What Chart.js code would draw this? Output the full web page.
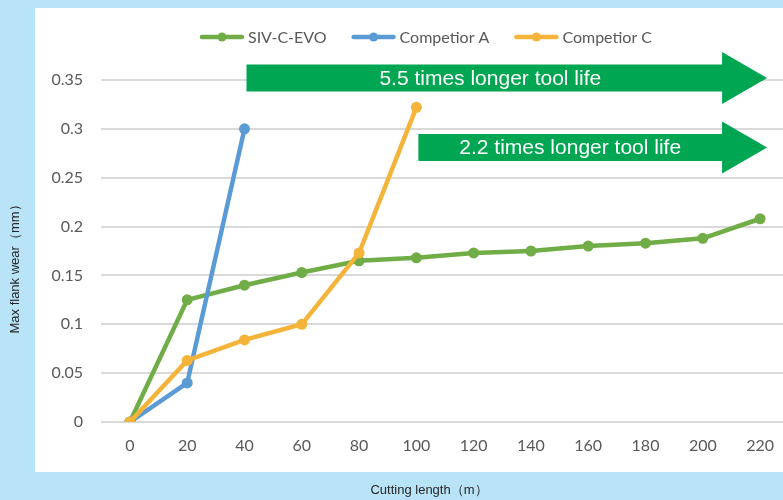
<!DOCTYPE html>
<html>
<head>
<meta charset="utf-8">
<script src="https://cdn.jsdelivr.net/npm/chart.js"></script>
<style>
    html, body { margin: 0; padding: 0; overflow: hidden; background: #b9e4f8; }
    #myChart { display: block; }
</style>
</head>
<body>
<canvas id="myChart" width="783" height="500"></canvas>
<script>
// data
const cuttingLength = [0, 20, 40, 60, 80, 100, 120, 140, 160, 180, 200, 220];
const sivValues = [0, 0.125, 0.14, 0.153, 0.165, 0.168, 0.173, 0.175, 0.18, 0.183, 0.188, 0.208];
const compAValues = [0, 0.04, 0.3];
const compCValues = [0, 0.063, 0.084, 0.1, 0.173, 0.322];
const seriesNames = ['SIV-C-EVO', 'Competior A', 'Competior C'];
const seriesColors = ['#70ad47', '#5b9bd5', '#f4b43a'];
const yTicks = [0, 0.05, 0.1, 0.15, 0.2, 0.25, 0.3, 0.35];

// arrows: from the last point of a competitor to the end of the test
const arrowTexts = ['5.5 times longer tool life', '2.2 times longer tool life'];
const arrowFrom = [40, 100];
const arrowTo = [220, 220];
const arrowLevel = [0.352, 0.281];

const xTitle = 'Cutting length（m）';
const yTitle = 'Max flank wear（mm）';

const tickFont = { family: 'Lato', size: 16 };
const tickColor = '#595959';

const backgroundPlugin = {
    id: 'panel',
    beforeDraw(chart) {
        const ctx = chart.ctx;
        ctx.save();
        ctx.fillStyle = '#b9e4f8';
        ctx.fillRect(0, 0, chart.width, chart.height);
        ctx.fillStyle = '#ffffff';
        ctx.fillRect(35, 8, chart.width - 35, 464);
        ctx.restore();
    }
};

const extrasPlugin = {
    id: 'extras',
    afterDatasetsDraw(chart) {
        const ctx = chart.ctx;
        const x = chart.scales.x;
        const y = chart.scales.y;
        ctx.save();
        // green arrows
        for (let i = 0; i < arrowTexts.length; i++) {
            const x0 = x.getPixelForValue(arrowFrom[i]) + 2;
            const tip = x.getPixelForValue(arrowTo[i]) + 7;
            const cy = y.getPixelForValue(arrowLevel[i]);
            const headStart = tip - 45;
            ctx.fillStyle = '#00a651';
            ctx.beginPath();
            ctx.moveTo(x0, cy - 13.5);
            ctx.lineTo(headStart, cy - 13.5);
            ctx.lineTo(headStart, cy - 26);
            ctx.lineTo(tip, cy);
            ctx.lineTo(headStart, cy + 26);
            ctx.lineTo(headStart, cy + 13.5);
            ctx.lineTo(x0, cy + 13.5);
            ctx.closePath();
            ctx.fill();
            ctx.fillStyle = '#ffffff';
            ctx.font = '21px "Liberation Sans", Arial, sans-serif';
            ctx.textAlign = 'center';
            ctx.textBaseline = 'middle';
            ctx.fillText(arrowTexts[i], (x0 + headStart) / 2 + (i === 0 ? 6 : 0), cy + 1);
        }
        ctx.restore();
    },
    afterDraw(chart) {
        const ctx = chart.ctx;
        ctx.save();
        // legend (line + dot icons)
        ctx.font = '16px Lato';
        const iconW = 44, gapText = 4, gapItem = 25;
        const widths = seriesNames.map((n) => ctx.measureText(n).width);
        let total = 0;
        widths.forEach((w) => total += iconW + gapText + w);
        total += gapItem * (widths.length - 1);
        let lx = 426 - total / 2;
        const ly = 37;
        for (let i = 0; i < seriesNames.length; i++) {
            ctx.strokeStyle = seriesColors[i];
            ctx.fillStyle = seriesColors[i];
            ctx.lineWidth = 4.5;
            ctx.lineCap = 'round';
            ctx.beginPath();
            ctx.moveTo(lx + 2, ly);
            ctx.lineTo(lx + iconW - 2, ly);
            ctx.stroke();
            ctx.beginPath();
            ctx.arc(lx + iconW / 2, ly, 4.5, 0, Math.PI * 2);
            ctx.fill();
            ctx.fillStyle = tickColor;
            ctx.textAlign = 'left';
            ctx.textBaseline = 'middle';
            ctx.fillText(seriesNames[i], lx + iconW + gapText, ly + 1);
            lx += iconW + gapText + widths[i] + gapItem;
        }
        // axis titles
        ctx.fillStyle = '#262626';
        ctx.font = '13px "Liberation Sans", Arial, sans-serif';
        ctx.textAlign = 'center';
        ctx.textBaseline = 'middle';
        ctx.fillText(xTitle, 429, 490);
        ctx.translate(15, 266);
        ctx.rotate(-Math.PI / 2);
        ctx.fillText(yTitle, 0, 0);
        ctx.restore();
    }
};

const makeSet = (i, values, order) => ({
    label: seriesNames[i],
    data: values.map((v, k) => ({ x: cuttingLength[k], y: v })),
    borderColor: seriesColors[i],
    backgroundColor: seriesColors[i],
    borderWidth: 4.5,
    pointRadius: 5.5,
    pointBorderWidth: 0,
    pointHoverRadius: 5.5,
    order: order
});

const myChart = new Chart(document.getElementById('myChart'), {
    type: 'line',
    data: {
        datasets: [
            makeSet(0, sivValues, 2),
            makeSet(1, compAValues, 1),
            makeSet(2, compCValues, 0)
        ]
    },
    options: {
        responsive: false,
        animation: false,
        layout: { autoPadding: false, padding: { top: 80, left: 0, right: 0, bottom: 0 } },
        plugins: {
            legend: { display: false },
            tooltip: { enabled: false }
        },
        scales: {
            x: {
                type: 'linear',
                // half a category of room either side, like an Excel category axis
                min: -10.1,
                max: 228,
                grid: { display: false, drawTicks: false },
                border: { display: false },
                ticks: { color: tickColor, font: tickFont, padding: 14, maxRotation: 0 },
                afterBuildTicks: (s) => { s.ticks = cuttingLength.map((v) => ({ value: v })); },
                afterFit: (s) => {
                    s.height = 78;
                    s.paddingLeft = 0;
                    s.paddingRight = 0;
                }
            },
            y: {
                min: 0,
                max: 0.35,
                grid: { color: '#d9d9d9', lineWidth: 2, drawTicks: false },
                border: { display: false },
                ticks: {
                    color: tickColor,
                    font: tickFont,
                    padding: 18,
                    callback: (v) => String(Number(Number(v).toFixed(2)))
                },
                afterBuildTicks: (s) => { s.ticks = yTicks.map((v) => ({ value: v })); },
                afterFit: (s) => {
                    s.width = 101;
                    s.paddingTop = 0;
                    s.paddingBottom = 0;
                }
            }
        }
    },
    plugins: [backgroundPlugin, extrasPlugin]
});
</script>
</body>
</html>
